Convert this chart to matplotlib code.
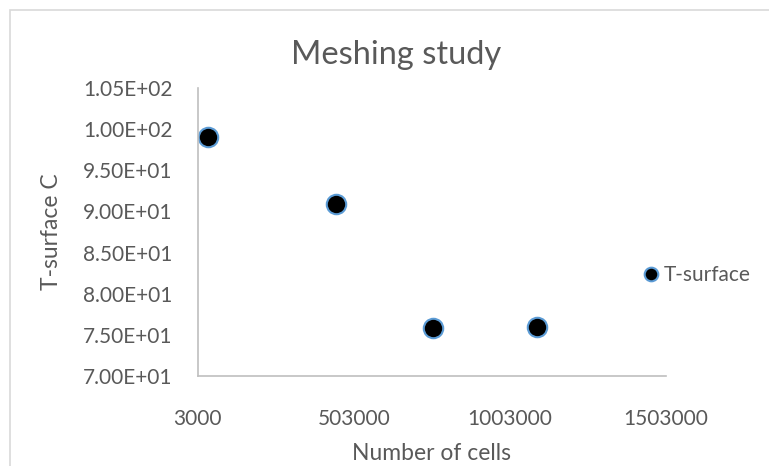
import matplotlib
matplotlib.use("Agg")
import matplotlib.pyplot as plt
from matplotlib.ticker import FuncFormatter

plt.rcParams['font.family'] = ['Lato', 'DejaVu Sans']

# mesh sizes and resulting surface temperature
cells = [37000, 446000, 756000, 1090000]
t_surface = [99.0, 90.9, 75.8, 76.0]

x_ticks = [3000, 503000, 1003000, 1503000]
y_ticks = [70, 75, 80, 85, 90, 95, 100, 105]

text_col = '#595959'
axis_col = '#bfbfbf'

fig = plt.figure(figsize=(7.69, 4.66), dpi=100)
ax = fig.add_axes([0.257, 0.193, 0.609, 0.618])

ax.plot(cells, t_surface, linestyle='None', marker='o', markersize=14,
        markerfacecolor='black', markeredgecolor='#5b9bd5', markeredgewidth=1.5,
        label='T-surface')

ax.set_xlim(3000, 1503000)
ax.set_ylim(70, 105)
ax.set_xticks(x_ticks)
ax.set_yticks(y_ticks)
ax.xaxis.set_major_formatter(FuncFormatter(lambda v, p: '%d' % v))
ax.yaxis.set_major_formatter(FuncFormatter(lambda v, p: '%.2E' % v))
ax.tick_params(axis='both', length=0, labelsize=15, colors=text_col)
ax.tick_params(axis='y', pad=18)
ax.tick_params(axis='x', pad=24)

for s in ['top', 'right']:
    ax.spines[s].set_visible(False)
for s in ['left', 'bottom']:
    ax.spines[s].set_color(axis_col)
    ax.spines[s].set_linewidth(1.2)

# title is centred on the whole chart, not the plot area
fig.text(396 / 769, 1 - 55 / 466, 'Meshing study', fontsize=23.5,
         color=text_col, ha='center', va='center')
ax.set_xlabel('Number of cells', fontsize=16.5, color=text_col, labelpad=10)
ax.set_ylabel('T-surface C', fontsize=16.5, color=text_col, labelpad=15)

ax.legend(loc='center left', bbox_to_anchor=(0.814, 0.41),
          bbox_transform=fig.transFigure, frameon=False, fontsize=15,
          labelcolor=text_col, markerscale=0.7, handlelength=0.6,
          handletextpad=0.3)

# outer chart border
fig.patches.append(plt.Rectangle((10 / 769, -0.05), 1.2, 1.0 - 10 / 466 + 0.05,
                                 transform=fig.transFigure, fill=False,
                                 edgecolor='#d9d9d9', linewidth=1.2))

fig.savefig('out.png', dpi=100)
